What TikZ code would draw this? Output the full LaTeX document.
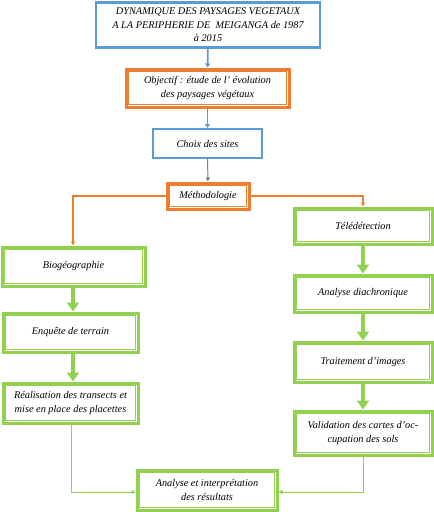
\documentclass[tikz,border=0pt]{standalone}
\usepackage{fontspec}
\setmainfont{Liberation Serif}
\usetikzlibrary{arrows.meta}
\definecolor{cblue}{HTML}{5B9BD5}
\definecolor{corange}{HTML}{ED7D31}
\definecolor{cgreen}{HTML}{92D050}
\tikzset{
  base/.style={rectangle, align=center, inner sep=1pt, font=\fontsize{10.3}{13.5}\selectfont\itshape, fill=white},
  bluebox/.style={base, draw=cblue, line width=2.5pt},
  dbox/.style={base, draw=#1, line width=3pt,
    path picture={\draw[#1, line width=0.7pt] ([shift={(2.7pt,2.7pt)}]path picture bounding box.south west) rectangle ([shift={(-2.7pt,-2.7pt)}]path picture bounding box.north east);}},
  orangebox/.style={dbox=corange},
  greenbox/.style={dbox=cgreen},
  barrow/.style={draw=cblue, line width=1.8pt, -{Triangle[length=4pt,width=5pt]}},
  oarrow/.style={draw=corange, line width=1.3pt, -{Triangle[length=4pt,width=4pt]}},
  garrow/.style={draw=cgreen, line width=4pt, -{Triangle[length=9pt,width=12pt]}},
  tarrow/.style={draw=cgreen, line width=0.6pt, -{Triangle[length=4pt,width=4pt]}},
}
\begin{document}
\begin{tikzpicture}[x=1pt,y=-1pt]
\useasboundingbox (0,0) rectangle (434,512);
\node[bluebox, minimum width=224pt, minimum height=45pt] (top) at (208,25)
  {DYNAMIQUE DES PAYSAGES VEGETAUX\\A LA PERIPHERIE DE \ MEIGANGA de 1987\\à 2015};
\node[orangebox, minimum width=163pt, minimum height=38pt] (obj) at (207.5,88)
  {Objectif : étude de l' évolution\\des paysages végétaux};
\node[bluebox, line width=2pt, minimum width=109pt, minimum height=29pt] (choix) at (207.5,143.5)
  {Choix des sites};
\node[orangebox, minimum width=82pt, minimum height=26pt] (meth) at (208,196)
  {Méthodologie};
\node[greenbox, minimum width=138pt, minimum height=36pt] (tele) at (363,226) {Télédétection};
\node[greenbox, minimum width=143pt, minimum height=39pt] (bio) at (73.5,266.5) {Biogéographie};
\node[greenbox, minimum width=138pt, minimum height=37pt] (diac) at (363,293.5) {Analyse diachronique};
\node[greenbox, minimum width=135pt, minimum height=39pt] (enq) at (70.5,332.5) {Enquête de terrain};
\node[greenbox, minimum width=135pt, minimum height=40pt] (real) at (70.5,403)
  {Réalisation des transects et\\mise en place des placettes};
\node[greenbox, minimum width=138pt, minimum height=40pt] (trait) at (363,362) {Traitement d'images};
\node[greenbox, minimum width=138pt, minimum height=44pt] (valid) at (363,433)
  {Validation des cartes d'oc-\\cupation des sols};
\node[greenbox, minimum width=140pt, minimum height=40pt] (ana) at (207,490)
  {Analyse et interprétation\\des résultats};
\coordinate (lc) at (73,196);
\coordinate (rc) at (363,196);
\draw[barrow] (top) -- (obj);
\draw[barrow] (obj) -- (choix);
\draw[draw=gray, line width=1pt, -{Triangle[length=4pt,width=4pt,fill=black]}] (choix) -- (meth);
\draw[oarrow] (meth.west) -- (lc) -- (bio.north -| lc);
\draw[oarrow] (meth.east) -- (rc) -- (tele.north -| rc);
\draw[garrow] (bio.south -| lc) -- (enq.north -| lc);
\draw[garrow] (enq.south -| lc) -- (real.north -| lc);
\draw[garrow] (tele) -- (diac);
\draw[garrow] (diac) -- (trait);
\draw[garrow] (trait) -- (valid);
\coordinate (lb) at (71,492);
\coordinate (rb) at (363,492);
\draw[tarrow] (real.south -| lb) -- (lb) -- (ana.west |- lb);
\draw[tarrow] (valid.south -| rb) -- (rb) -- (ana.east |- rb);
\end{tikzpicture}
\end{document}
